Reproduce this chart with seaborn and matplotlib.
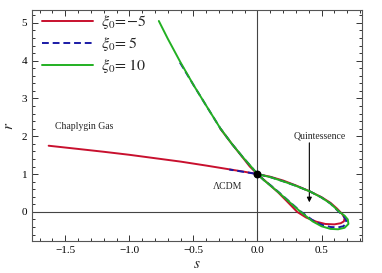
import matplotlib
matplotlib.use("Agg")
import matplotlib.pyplot as plt
import seaborn as sns
import pandas as pd
from matplotlib.ticker import MultipleLocator

# statefinder trajectories {s, r}
s_red = [-1.63, -1.4, -1.2, -1.0, -0.8, -0.6, -0.4, -0.2, -0.1, 0.0,
         0.1, 0.2, 0.3, 0.4, 0.5, 0.57, 0.62, 0.66, 0.68, 0.675, 0.65, 0.6,
         0.53, 0.46, 0.38, 0.31, 0.23, 0.16, 0.08, 0.0, -0.06, -0.12, -0.2, -0.29]
r_red = [1.75, 1.665, 1.59, 1.51, 1.42, 1.33, 1.225, 1.115, 1.06, 1.0,
         0.93, 0.83, 0.70, 0.555, 0.39, 0.24, 0.09, -0.05, -0.16, -0.25, -0.30, -0.33,
         -0.32, -0.26, -0.15, 0.0, 0.28, 0.52, 0.76, 1.0, 1.2, 1.46, 1.8, 2.2]

s_blue = [-0.605, -0.5, -0.4, -0.29, -0.2, -0.11, -0.05, 0.0, 0.05, 0.10, 0.17,
          0.23, 0.33, 0.43, 0.5, 0.57, 0.63, 0.67, 0.695, 0.69, 0.67, 0.63,
          0.57, 0.5, 0.41, 0.3, 0.2, 0.1, 0.0, -0.1, -0.22]
r_blue = [3.95, 3.36, 2.81, 2.21, 1.8, 1.43, 1.2, 1.0, 0.84, 0.71, 0.51,
          0.33, 0.03, -0.22, -0.34, -0.40, -0.41, -0.38, -0.3, -0.2, -0.1, 0.02,
          0.22, 0.38, 0.54, 0.69, 0.81, 0.92, 1.0, 1.055, 1.12]

s_green = [-0.77, -0.7, -0.6, -0.5, -0.4, -0.29, -0.2, -0.11, -0.05, 0.0, 0.05,
           0.10, 0.17, 0.23, 0.33, 0.43, 0.5, 0.57, 0.63, 0.68, 0.71, 0.705,
           0.68, 0.64, 0.57, 0.5, 0.41, 0.3, 0.2, 0.1, 0.0]
r_green = [5.05, 4.58, 3.95, 3.36, 2.81, 2.21, 1.8, 1.43, 1.2, 1.0, 0.84,
           0.70, 0.5, 0.32, 0.02, -0.25, -0.38, -0.45, -0.46, -0.42, -0.32, -0.2,
           -0.1, 0.0, 0.22, 0.38, 0.54, 0.69, 0.81, 0.92, 1.0]

labels = [r"$\xi_0\!=\!\mathit{-5}$", r"$\xi_0\!=\mathit{5}$", r"$\xi_0\!=\mathit{10}$"]
xticks = [-1.5, -1.0, -0.5, 0.0, 0.5]
yticks = [0, 1, 2, 3, 4, 5]

sns.set_theme(style="ticks")
plt.rcParams["font.family"] = ["Liberation Serif", "DejaVu Serif"]
plt.rcParams["mathtext.fontset"] = "stix"

fig = plt.figure(figsize=(3.82, 2.73), dpi=100)
ax = fig.add_axes([32/382, 1-241/273, 330/382, 231/273])

ax.axhline(0, color="#444444", lw=0.8, zorder=1)
ax.axvline(0, color="#444444", lw=0.8, zorder=1)

df_red = pd.DataFrame({"s": s_red, "r": r_red})
df_blue = pd.DataFrame({"s": s_blue, "r": r_blue})
df_green = pd.DataFrame({"s": s_green, "r": r_green})

sns.lineplot(data=df_red, x="s", y="r", sort=False, estimator=None, ax=ax,
             color="#c8102e", lw=1.4, label=labels[0], zorder=2)
sns.lineplot(data=df_blue, x="s", y="r", sort=False, estimator=None, ax=ax,
             color="#1a1aa6", lw=1.4, label=labels[1], zorder=3,
             linestyle=(0, (3.5, 2.0)))
sns.lineplot(data=df_green, x="s", y="r", sort=False, estimator=None, ax=ax,
             color="#22b022", lw=1.4, label=labels[2], zorder=4)

ax.scatter([0], [1], s=22, color="black", zorder=6)

ax.set_xlim(-1.76, 0.816)
ax.set_ylim(-0.77, 5.34)
ax.set_xticks(xticks)
ax.set_yticks(yticks)
ax.set_xticklabels([("%.1f" % v).replace("-", "\u2212") for v in xticks])
ax.set_yticklabels([str(v) for v in yticks])
ax.xaxis.set_minor_locator(MultipleLocator(0.1))
ax.yaxis.set_minor_locator(MultipleLocator(0.2))
ax.tick_params(which="both", direction="in", top=True, right=True,
               labelsize=8, colors="#333333", labelcolor="black", width=0.7)
ax.tick_params(which="major", length=4)
ax.tick_params(which="minor", length=2)
for sp in ax.spines.values():
    sp.set_color("#555555")
    sp.set_linewidth(0.8)

ax.set_xlabel(r"$s$", fontsize=11, labelpad=2)
ax.set_ylabel(r"$r$", fontsize=11, labelpad=4)

ax.text(-1.355, 2.27, "Chaplygin Gas", fontsize=7, ha="center", va="center")
ax.text(-0.234, 0.66, "\u039bCDM", fontsize=7, ha="center", va="center")
ax.text(0.49, 2.01, "Quintessence", fontsize=7, ha="center", va="center")
ax.annotate("", xy=(0.405, 0.18), xytext=(0.405, 1.9),
            arrowprops=dict(arrowstyle="-|>", color="black", lw=0.8,
                            mutation_scale=7))

leg = ax.legend(loc="upper left", frameon=False, fontsize=11.5,
                handlelength=3.2, handletextpad=0.5, labelspacing=0.25,
                borderaxespad=0.0, borderpad=0.0, bbox_to_anchor=(0.03, 0.985))

fig.savefig("out.png", dpi=100)
